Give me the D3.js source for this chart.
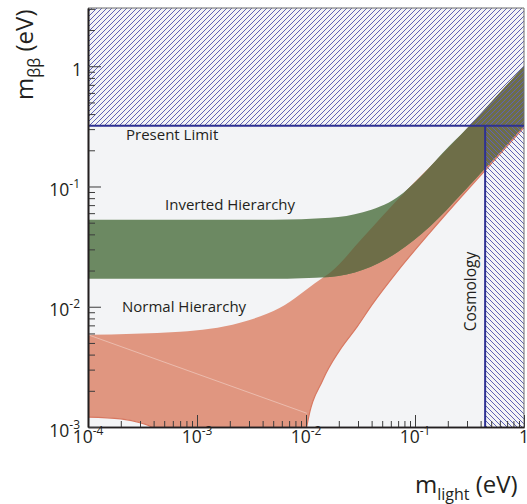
<!DOCTYPE html>
<html>
<head>
<meta charset="utf-8">
<script src="https://cdn.jsdelivr.net/npm/d3@7"></script>
<style>
body { margin: 0; background: #fff; }
text { font-family: "Open Sans", sans-serif; fill: #231f20; }
.axis path.domain { stroke: #231f20; stroke-width: 1.6; }
.axis line { stroke: #3c3c3c; stroke-width: 1; }
</style>
</head>
<body>
<div id="chart"></div>
<script>
// values (eV)
var ihUpM    = [1e-4, 0.005, 0.0166, 0.0333, 0.0684, 0.118, 0.181, 0.3, 0.5, 1];
var ihUpper  = [0.053, 0.053, 0.055, 0.061, 0.081, 0.126, 0.192, 0.305, 0.505, 1.0];
var ihLowM   = [1e-4, 0.005, 0.0166, 0.0333, 0.0684, 0.137, 0.275, 0.458, 1];
var ihLower  = [0.0171, 0.0171, 0.0177, 0.0203, 0.0282, 0.0464, 0.089, 0.147, 0.32];

var nhUpM    = [1e-4, 7e-4, 0.00248, 0.00577, 0.0134, 0.0166, 0.0333, 0.0684, 0.137, 0.3, 0.5, 1];
var nhUpper  = [0.00585, 0.0062, 0.00736, 0.0098, 0.0168, 0.0192, 0.0376, 0.077, 0.146, 0.303, 0.503, 1.0];
var nhLowM   = [1e-4, 2e-4, 3.06e-4, 3.95e-4, 6e-4, 0.0095, 0.0102, 0.0143, 0.0205, 0.0294, 0.0404, 0.0684, 0.137, 0.275, 0.42, 1];
var nhLower  = [0.00121, 0.00117, 0.00108, 0.00098, 0.0003, 0.0003, 0.00102, 0.00247, 0.00438, 0.0068, 0.0104, 0.0195, 0.0414, 0.085, 0.13, 0.31];

var nhSeamM  = [1e-4, 0.0102];
var nhSeamV  = [0.00585, 0.0013];

var presentLimit = 0.32;
var cosmoLimit = 0.44;

var xTicks = [1e-4, 1e-3, 1e-2, 1e-1, 1];
var xTickLabels = [["10", "-4"], ["10", "-3"], ["10", "-2"], ["10", "-1"], ["1", ""]];
var yTicks = [1e-3, 1e-2, 1e-1, 1];
var yTickLabels = [["10", "-3"], ["10", "-2"], ["10", "-1"], ["1", ""]];

var w = 527, h = 504;
var plotL = 88, plotR = 524, plotT = 8, plotB = 427;
var yMax = 3.05;

var svg = d3.select("#chart").append("svg").attr("width", w).attr("height", h);

var xScale = d3.scaleLog().domain([1e-4, 1]).range([plotL, plotR]);
var yScale = d3.scaleLog().domain([1e-3, yMax]).range([plotB, plotT]);

function pts(ms, vs) {
    return ms.map(function(m, i) { return [xScale(m), yScale(vs[i])]; });
}
var edge = d3.line().curve(d3.curveMonotoneX);

// closed band: upper edge left->right, lower edge right->left
function band(upM, up, lowM, low) {
    var a = edge(pts(upM, up));
    var b = edge(pts(lowM, low).reverse());
    return a + "L" + b.slice(1) + "Z";
}
var ihPath = band(ihUpM, ihUpper, ihLowM, ihLower);
var nhPath = band(nhUpM, nhUpper, nhLowM, nhLower);

var defs = svg.append("defs");
defs.append("clipPath").attr("id", "plotClip").append("rect")
    .attr("x", plotL).attr("y", plotT).attr("width", plotR - plotL).attr("height", plotB - plotT);
defs.append("clipPath").attr("id", "ihClip").append("path").attr("d", ihPath);

// diagonal hatching, tile of s px
var s = 5;
function hatch(id, d) {
    defs.append("pattern").attr("id", id)
        .attr("patternUnits", "userSpaceOnUse")
        .attr("width", s).attr("height", s)
        .append("path").attr("d", d)
        .attr("stroke", "#5f62b6").attr("stroke-width", 1).attr("fill", "none");
}
hatch("hatchA", "M0," + s + "L" + s + ",0M-1,1L1,-1M" + (s - 1) + "," + (s + 1) + "L" + (s + 1) + "," + (s - 1));
hatch("hatchB", "M0,0L" + s + "," + s + "M-1," + (s - 1) + "L1," + (s + 1) + "M" + (s - 1) + ",-1L" + (s + 1) + ",1");

// plot background
svg.append("rect").attr("x", plotL).attr("y", plotT)
    .attr("width", plotR - plotL).attr("height", plotB - plotT)
    .attr("fill", "#f3f4f6");

var bands = svg.append("g").attr("clip-path", "url(#plotClip)");
bands.append("path").attr("d", nhPath).attr("fill", "#e09680");
bands.append("path").attr("d", edge(pts(nhLowM, nhLower)))
    .attr("fill", "none").attr("stroke", "#d87861").attr("stroke-width", 1.2);
bands.append("path").attr("d", edge(pts(nhSeamM, nhSeamV)))
    .attr("fill", "none").attr("stroke", "#fff").attr("stroke-opacity", 0.45).attr("stroke-width", 0.8);
bands.append("path").attr("d", ihPath).attr("fill", "#6c8962");
bands.append("path").attr("d", nhPath).attr("fill", "#6e6e48").attr("clip-path", "url(#ihClip)");

// excluded regions
var yLim = yScale(presentLimit), xLim = xScale(cosmoLimit);
svg.append("rect").attr("x", plotL).attr("y", plotT)
    .attr("width", plotR - plotL).attr("height", yLim - plotT)
    .attr("fill", "url(#hatchA)");
svg.append("rect").attr("x", xLim).attr("y", yLim)
    .attr("width", plotR - xLim).attr("height", plotB - yLim)
    .attr("fill", "url(#hatchB)");

// frame top / right
svg.append("path").attr("d", "M" + plotL + "," + plotT + "H" + plotR + "V" + plotB)
    .attr("fill", "none").attr("stroke", "#6d6d6d").attr("stroke-width", 1);

svg.append("line").attr("x1", plotL).attr("x2", plotR).attr("y1", yLim).attr("y2", yLim)
    .attr("stroke", "#2e3192").attr("stroke-width", 2);
svg.append("line").attr("x1", xLim).attr("x2", xLim).attr("y1", yLim).attr("y2", plotB)
    .attr("stroke", "#2e3192").attr("stroke-width", 2);

// minor ticks
var xMinor = [], yMinor = [];
[1e-4, 1e-3, 1e-2, 1e-1].forEach(function(d) {
    for (var k = 2; k <= 9; k++) xMinor.push(d * k);
});
[1e-3, 1e-2, 1e-1, 1].forEach(function(d) {
    for (var k = 2; k <= 9; k++) if (d * k <= yMax) yMinor.push(d * k);
});

var xAxisMinor = d3.axisBottom(xScale).tickValues(xMinor).tickSize(-6).tickSizeOuter(0).tickFormat("");
var xAxisMajor = d3.axisBottom(xScale).tickValues(xTicks).tickSize(-12).tickSizeOuter(0).tickFormat("");
var yAxisMinor = d3.axisLeft(yScale).tickValues(yMinor).tickSize(-7).tickSizeOuter(0).tickFormat("");
var yAxisMajor = d3.axisLeft(yScale).tickValues(yTicks).tickSize(-13).tickSizeOuter(0).tickFormat("");

svg.append("g").attr("class", "axis").attr("transform", "translate(0," + plotB + ")").call(xAxisMinor);
svg.append("g").attr("class", "axis").attr("transform", "translate(0," + plotB + ")").call(xAxisMajor);
svg.append("g").attr("class", "axis").attr("transform", "translate(" + plotL + ",0)").call(yAxisMinor);
svg.append("g").attr("class", "axis").attr("transform", "translate(" + plotL + ",0)").call(yAxisMajor);

// tick labels with superscripts
var xl = svg.selectAll(".xlab").data(xTicks).enter().append("text")
    .attr("class", "xlab")
    .attr("x", function(d) { return xScale(d); })
    .attr("y", 443).attr("text-anchor", "middle").style("font-size", "17.5px");
xl.append("tspan").text(function(d, i) { return xTickLabels[i][0]; });
xl.append("tspan").attr("dy", -8).style("font-size", "12px").text(function(d, i) { return xTickLabels[i][1]; });

var yl = svg.selectAll(".ylab").data(yTicks).enter().append("text")
    .attr("class", "ylab")
    .attr("x", function(d, i) { return i == yTicks.length - 1 ? 82 : 80; })
    .attr("y", function(d) { return yScale(d) + 9.5; })
    .attr("text-anchor", "end").style("font-size", "17.5px");
yl.append("tspan").text(function(d, i) { return yTickLabels[i][0]; });
yl.append("tspan").attr("dy", -8).style("font-size", "12px").text(function(d, i) { return yTickLabels[i][1]; });

// axis titles
var yt = svg.append("text").attr("transform", "translate(33,100) rotate(-90)").style("font-size", "24px");
yt.append("tspan").text("m");
yt.append("tspan").attr("dy", 7).style("font-size", "16px").text("ββ");
yt.append("tspan").attr("dy", -7).text(" (eV)");

var xt = svg.append("text").attr("x", 415).attr("y", 493).style("font-size", "24px");
xt.append("tspan").text("m");
xt.append("tspan").attr("dy", 7).style("font-size", "16px").text("light");
xt.append("tspan").attr("dy", -7).text(" (eV)");

// region labels
svg.append("text").attr("x", 126).attr("y", 139.5).style("font-size", "15px").text("Present Limit");
svg.append("text").attr("x", 165).attr("y", 210).style("font-size", "15px").text("Inverted Hierarchy");
svg.append("text").attr("x", 122).attr("y", 312).style("font-size", "15px").text("Normal Hierarchy");
svg.append("text").attr("transform", "translate(476,291.5) rotate(-90)")
    .attr("text-anchor", "middle").style("font-size", "15.5px").text("Cosmology");
</script>
</body>
</html>
